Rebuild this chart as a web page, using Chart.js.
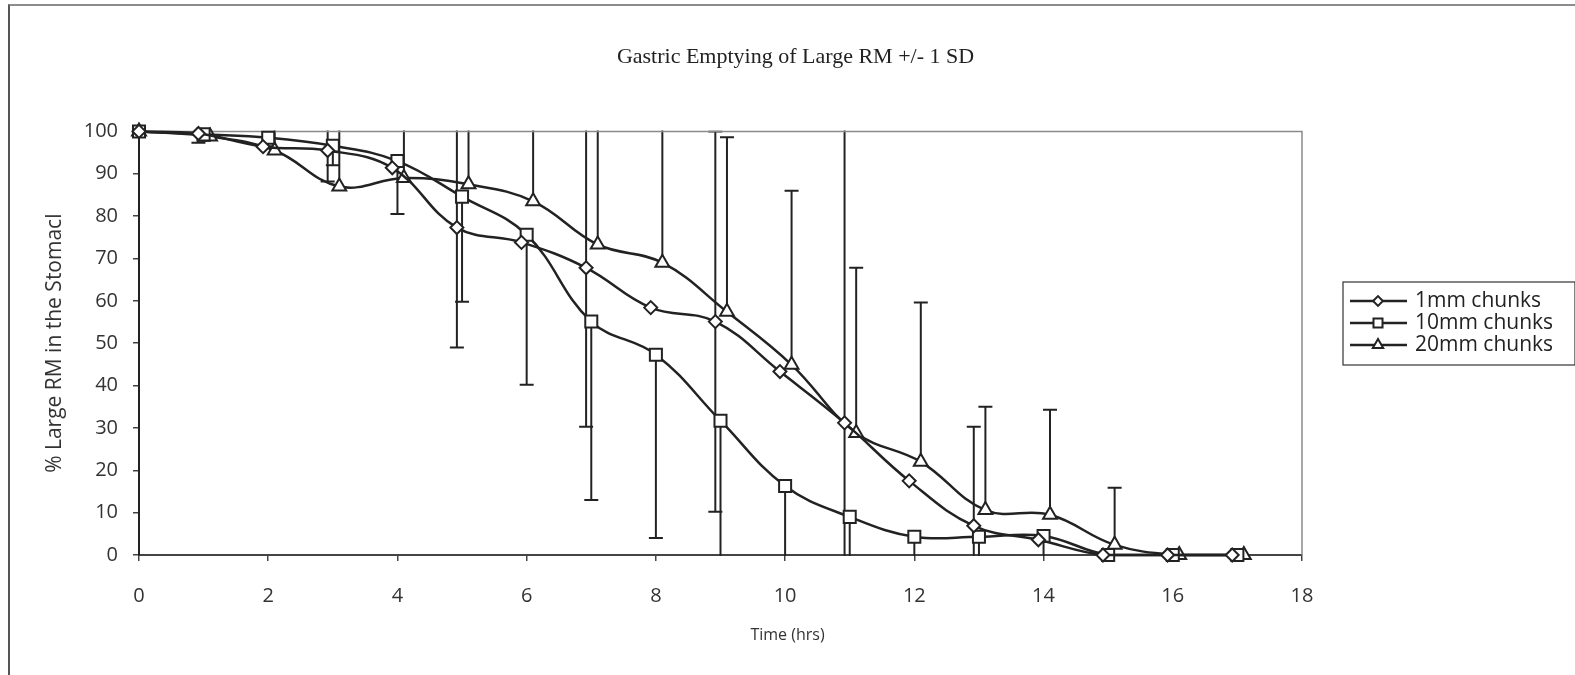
<!DOCTYPE html>
<html>
<head>
<meta charset="utf-8">
<title>Gastric Emptying of Large RM</title>
<script src="https://cdn.jsdelivr.net/npm/chart.js@4.4.1/dist/chart.umd.min.js"></script>
<style>
  html, body { margin: 0; padding: 0; background: #fff; }
  #wrap { position: relative; width: 1575px; height: 675px; overflow: hidden; }
  #frame { position: absolute; left: 8px; top: 4px; right: -4px; bottom: -4px;
           border-top: 2px solid #8c8c8c; border-left: 2px solid #555; }
  #chart { position: absolute; left: 0; top: 0; }
</style>
</head>
<body>
<div id="wrap">
  <div id="frame"></div>
  <canvas id="chart" width="1575" height="675"></canvas>
</div>
<script>
// series names
const seriesNames = ['1mm chunks', '10mm chunks', '20mm chunks'];

// sample times (hrs) - series are staggered slightly in the original so the bars don't overlap
const time1mm  = [0, 0.92, 1.92, 2.92, 3.92, 4.92, 5.92, 6.92, 7.92, 8.92, 9.92, 10.92, 11.92, 12.92, 13.92, 14.92, 15.92, 16.92];
const time10mm = [0, 1, 2, 3, 4, 5, 6, 7, 8, 9, 10, 11, 12, 13, 14, 15, 16, 17];
const time20mm = [0, 1.1, 2.1, 3.1, 4.1, 5.1, 6.1, 7.1, 8.1, 9.1, 10.1, 11.1, 12.1, 13.1, 14.1, 15.1, 16.1, 17.1];

// % large RM left in the stomach
const pct1mm  = [100, 99.5, 96.4, 95.5, 91.4, 77.3, 73.8, 67.8, 58.4, 55.1, 43.3, 31.2, 17.5, 6.9, 3.6, 0, 0, 0];
const pct10mm = [100, 99.3, 98.5, 96.6, 93.0, 84.6, 75.6, 55.1, 47.3, 31.7, 16.3, 9.0, 4.3, 4.3, 4.5, 0, 0, 0];
const pct20mm = [100, 98.8, 95.5, 87.0, 89.0, 87.5, 83.5, 73.3, 69.0, 57.4, 44.9, 28.8, 22.0, 10.6, 9.5, 2.4, 0, 0];

// 1 SD: 1mm shown both ways, 10mm minus only, 20mm plus only
const sd1mm        = [0, 2.2, 0, 7.3, 0, 28.3, 0, 37.5, 0, 44.9, 0, 70, 0, 23.4, 0, 0, 0, 0];
const sdMinus10mm  = [0, 1.5, 2, 4.6, 12.5, 24.8, 35.4, 42.1, 43.3, 38, 28, 22, 12, 10, 8, 0, 0, 0];
const sdPlus20mm   = [0, 2, 8, 15, 15, 16, 25, 35, 38, 41.2, 41.1, 39.0, 37.6, 24.4, 24.8, 13.5, 0, 0];

const xTitle = 'Time (hrs)';
const ink = '#222';

function points(xs, ys) {
    return xs.map((x, i) => ({ x: x, y: ys[i] }));
}

// vertical error bars, drawn under the markers
const errorBars = {
    id: 'errorBars',
    beforeDatasetsDraw(chart) {
        const { ctx, chartArea } = chart;
        const xs = chart.scales.x, ys = chart.scales.y;
        ctx.save();
        ctx.beginPath();
        ctx.rect(chartArea.left, chartArea.top - 1, chartArea.right - chartArea.left, chartArea.bottom - chartArea.top + 2);
        ctx.clip();
        ctx.strokeStyle = ink;
        ctx.lineWidth = 2;
        chart.data.datasets.forEach(ds => {
            ds.data.forEach((p, i) => {
                const up = ds.errPlus ? ds.errPlus[i] : 0;
                const down = ds.errMinus ? ds.errMinus[i] : 0;
                if (!up && !down) return;
                const px = xs.getPixelForValue(p.x);
                const yTop = ys.getPixelForValue(p.y + up);
                const yBot = ys.getPixelForValue(p.y - down);
                ctx.beginPath();
                ctx.moveTo(px, yTop);
                ctx.lineTo(px, yBot);
                if (up) { ctx.moveTo(px - 7, yTop); ctx.lineTo(px + 7, yTop); }
                if (down) { ctx.moveTo(px - 7, yBot); ctx.lineTo(px + 7, yBot); }
                ctx.stroke();
            });
        });
        ctx.restore();

        // thin frame round the plot area
        ctx.save();
        ctx.strokeStyle = '#8a8a8a';
        ctx.lineWidth = 1.5;
        ctx.beginPath();
        ctx.moveTo(chartArea.left, chartArea.top);
        ctx.lineTo(chartArea.right, chartArea.top);
        ctx.lineTo(chartArea.right, chartArea.bottom);
        ctx.stroke();
        ctx.restore();
    }
};

// excel style legend box on the right, plus the x axis title (centred on the whole chart like the original)
const sideLegend = {
    id: 'sideLegend',
    afterDraw(chart) {
        const ctx = chart.ctx;
        const left = chart.chartArea.right + 41;
        const top = 282;
        const rowH = 22;
        const n = chart.data.datasets.length;
        ctx.save();
        ctx.fillStyle = '#fff';
        ctx.fillRect(left, top, 232, n * rowH + 17);
        ctx.strokeStyle = '#333';
        ctx.lineWidth = 1.2;
        ctx.strokeRect(left, top, 232, n * rowH + 17);
        chart.data.datasets.forEach((ds, i) => {
            const y = top + 19 + i * rowH;
            ctx.strokeStyle = ink;
            ctx.lineWidth = 2.5;
            ctx.beginPath();
            ctx.moveTo(left + 7, y);
            ctx.lineTo(left + 64, y);
            ctx.stroke();
            ctx.fillStyle = '#fff';
            ctx.lineWidth = 2;
            Chart.helpers.drawPoint(ctx, {
                pointStyle: ds.pointStyle,
                radius: ds.pointRadius * 0.75,
                borderWidth: 2,
                rotation: 0
            }, left + 35, y);
            ctx.fillStyle = ink;
            ctx.font = '21px "Open Sans"';
            ctx.textBaseline = 'middle';
            ctx.textAlign = 'left';
            ctx.fillText(ds.label, left + 72, y);
        });

        ctx.fillStyle = '#333';
        ctx.font = '16px "Open Sans"';
        ctx.textAlign = 'center';
        ctx.textBaseline = 'middle';
        ctx.fillText(xTitle, chart.width / 2, chart.chartArea.bottom + 80);
        ctx.restore();
    }
};

const common = {
    showLine: true,
    borderColor: ink,
    borderWidth: 2.5,
    pointBackgroundColor: '#fff',
    pointBorderColor: ink,
    pointBorderWidth: 2,
    tension: 0.4,
    fill: false,
    clip: false
};

const ctx = document.getElementById('chart').getContext('2d');
new Chart(ctx, {
    type: 'scatter',
    data: {
        datasets: [
            Object.assign({}, common, {
                label: seriesNames[0],
                data: points(time1mm, pct1mm),
                errPlus: sd1mm,
                errMinus: sd1mm,
                pointStyle: 'rectRot',
                pointRadius: 6.5
            }),
            Object.assign({}, common, {
                label: seriesNames[1],
                data: points(time10mm, pct10mm),
                errMinus: sdMinus10mm,
                pointStyle: 'rect',
                pointRadius: 8.5
            }),
            Object.assign({}, common, {
                label: seriesNames[2],
                data: points(time20mm, pct20mm),
                errPlus: sdPlus20mm,
                pointStyle: 'triangle',
                pointRadius: 8
            })
        ]
    },
    options: {
        responsive: false,
        animation: false,
        devicePixelRatio: 1,
        layout: { padding: { left: 16, right: 0, top: 0, bottom: 0 } },
        plugins: {
            legend: { display: false },
            tooltip: { enabled: false },
            title: {
                display: true,
                text: 'Gastric Emptying of Large RM +/- 1 SD',
                color: ink,
                font: { family: '"Liberation Serif", "Times New Roman", serif', size: 22, weight: 'normal' },
                padding: { top: 44, bottom: 61 }
            }
        },
        scales: {
            x: {
                type: 'linear',
                min: 0,
                max: 18,
                ticks: { stepSize: 2, color: '#333', padding: 23, font: { family: '"Open Sans"', size: 20 } },
                grid: { drawOnChartArea: false, drawTicks: true, tickLength: 6, color: '#444', lineWidth: 1.5 },
                border: { display: true, color: '#444', width: 2 },
                afterFit(scale) { scale.height = 120; }
            },
            y: {
                min: 0,
                max: 100,
                ticks: { stepSize: 10, color: '#333', padding: 15, font: { family: '"Open Sans"', size: 20 } },
                grid: { drawOnChartArea: false, drawTicks: true, tickLength: 6, color: '#444', lineWidth: 1.5 },
                border: { display: true, color: ink, width: 2 },
                title: {
                    display: true,
                    text: '% Large RM in the Stomacl',
                    color: '#333',
                    font: { family: '"Open Sans"', size: 21 },
                    padding: { top: 26, bottom: 0 }
                },
                afterFit(scale) { scale.width = 123; }
            },
            // empty right-hand axis that only reserves room for the legend box
            legendRoom: {
                type: 'linear',
                position: 'right',
                display: true,
                grid: { display: false },
                ticks: { display: false },
                border: { display: false },
                afterFit(scale) { scale.width = 273; }
            }
        }
    },
    plugins: [errorBars, sideLegend]
});
</script>
</body>
</html>
